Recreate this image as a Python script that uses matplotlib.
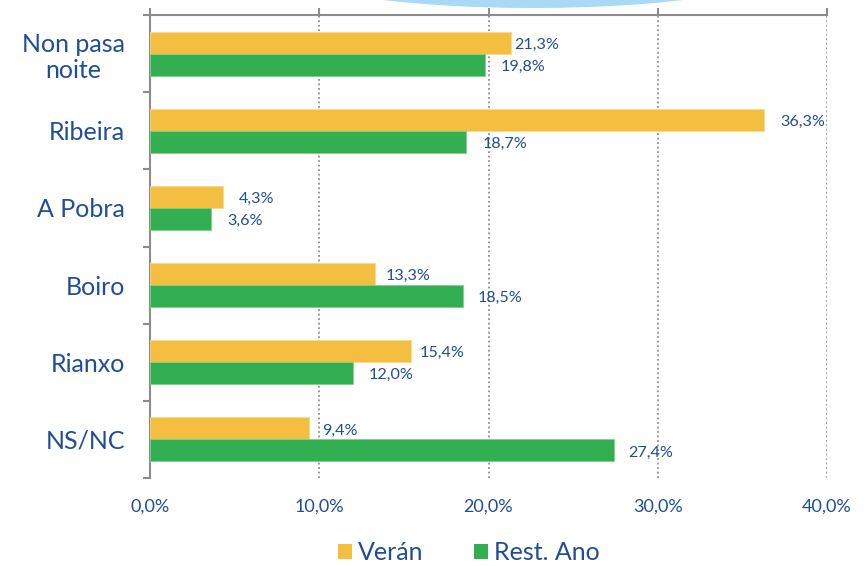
import matplotlib
matplotlib.use("Agg")
import matplotlib.pyplot as plt
from matplotlib.patches import Ellipse, Patch
import numpy as np

plt.rcParams['font.family'] = ['Lato', 'DejaVu Sans']

categories = ["Non pasa\nnoite", "Ribeira", "A Pobra", "Boiro", "Rianxo", "NS/NC"]
veran = [21.3, 36.3, 4.3, 13.3, 15.4, 9.4]
resto = [19.8, 18.7, 3.6, 18.5, 12.0, 27.4]
series_names = ["Verán", "Rest. Ano"]
xticks = [0, 10, 20, 30, 40]
xticklabels = ["0,0%", "10,0%", "20,0%", "30,0%", "40,0%"]

# label gaps (pixels) from bar end, as placed in the original chart
gap_veran = [4, 16, 16, 11, 9, 13]
gap_resto = [16, 16, 16, 15, 16, 15]

YEL = "#F4BE41"
GRN = "#33AE50"
TXT = "#1F4E96"
AXC = "#8C8C8C"

W, H = 865, 566
fig = plt.figure(figsize=(W / 100, H / 100), dpi=100)
PX = 72 / 100  # points per pixel

# decorative cut-off title shape at the top
bg = fig.add_axes([0, 0, 1, 1], zorder=-1)
bg.set_xlim(0, W)
bg.set_ylim(H, 0)
bg.axis('off')
bg.add_patch(Ellipse((533, -30), 488, 76, facecolor="#A9D9F7", edgecolor="none"))

left, right, top, bottom = 150, 827, 15, 478
ax = fig.add_axes([left / W, 1 - bottom / H, (right - left) / W, (bottom - top) / H])

n = len(categories)
y = np.arange(n)
bh = 0.285
ax.barh(y - bh / 2, veran, height=bh, color=YEL, edgecolor="#F8D98A", linewidth=0.6, zorder=3)
ax.barh(y + bh / 2, resto, height=bh, color=GRN, edgecolor="#7ED08F", linewidth=0.6, zorder=3)

for i in range(n):
    ax.annotate(f"{veran[i]:.1f}%".replace('.', ','), (veran[i], y[i] - bh / 2),
                xytext=(gap_veran[i] * PX, -2 * PX), textcoords='offset points',
                va='center', ha='left', fontsize=11.6, color=TXT, zorder=4)
    ax.annotate(f"{resto[i]:.1f}%".replace('.', ','), (resto[i], y[i] + bh / 2),
                xytext=(gap_resto[i] * PX, -2 * PX), textcoords='offset points',
                va='center', ha='left', fontsize=11.6, color=TXT, zorder=4)

ax.set_xlim(0, 40)
ax.set_ylim(n - 0.5, -0.5)

ax.set_yticks(y)
ax.set_yticklabels(categories, fontsize=18, color=TXT, ha='right', multialignment='center')
ax.set_yticks(np.arange(-0.5, n, 1.0), minor=True)
ax.tick_params(axis='y', which='major', length=0, pad=18)
ax.tick_params(axis='y', which='minor', length=5, width=1.5, color=AXC, direction='out')

ax.set_xticks(xticks)
ax.set_xticklabels(xticklabels, fontsize=13, color=TXT)
ax.tick_params(axis='x', which='major', top=True, bottom=False, labeltop=False, labelbottom=True,
               length=5, width=1.5, color=AXC, direction='out', pad=10)

for s in ['bottom', 'right']:
    ax.spines[s].set_visible(False)
for s in ['top', 'left']:
    ax.spines[s].set_color(AXC)
    ax.spines[s].set_linewidth(1.5)

ax.xaxis.grid(True, linestyle=(0, (1, 1.5)), color="#909090", linewidth=1.3, zorder=0)
ax.set_axisbelow(True)

handles = [Patch(facecolor=YEL, edgecolor='none'), Patch(facecolor=GRN, edgecolor='none')]
fig.legend(handles, series_names, loc='center', bbox_to_anchor=(469 / W, 1 - 553 / H),
           ncol=2, frameon=False, fontsize=18, labelcolor=TXT,
           handlelength=0.56, handleheight=0.56, handletextpad=0.25, columnspacing=2.0,
           borderpad=0, borderaxespad=0)

fig.savefig("out.png", dpi=100)
